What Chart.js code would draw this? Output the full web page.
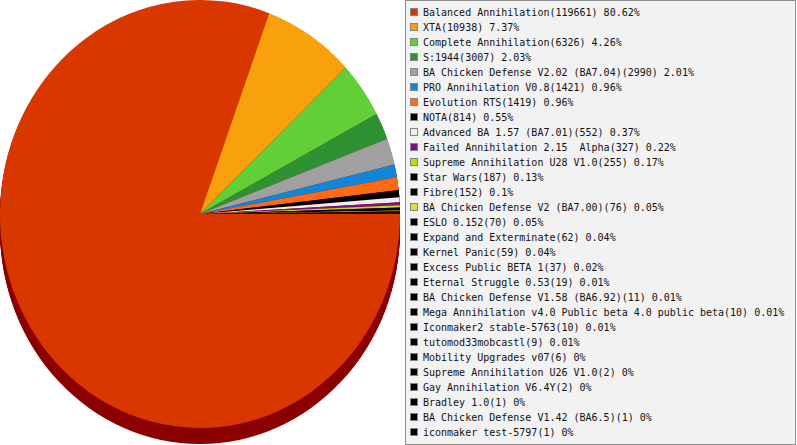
<!DOCTYPE html>
<html>
<head>
<meta charset="utf-8">
<title>Mod usage</title>
<script src="https://cdn.jsdelivr.net/npm/chart.js@4.4.1/dist/chart.umd.min.js"></script>
<style>
  html, body { margin: 0; padding: 0; background: #fff; overflow: hidden; }
  #wrap { position: relative; width: 797px; height: 445px; }
  #pie { position: absolute; left: 0; top: 0; }
  #legend {
    position: absolute; left: 405px; top: 0; width: 391px; height: 445px;
    box-sizing: border-box; border: 1px solid #8f8f8f; background: #f2f2f2;
    padding: 4px 0 0 4px;
    font-family: "DejaVu Sans Mono", "Liberation Mono", monospace; font-size: 10px; color: #111;
  }
  .row { height: 15px; line-height: 15px; white-space: pre; display: flex; align-items: center; }
  .sw { width: 8px; height: 8px; box-sizing: border-box; border: 1px solid #858585; margin-right: 5px; flex: none; margin-top: -1px; }
</style>
</head>
<body>
<div id="wrap">
  <canvas id="pie" width="400" height="445"></canvas>
  <div id="legend"></div>
</div>
<script>
// mods and the number of games played with each
const mods = [
  'Balanced Annihilation', 'XTA', 'Complete Annihilation', 'S:1944',
  'BA Chicken Defense V2.02 (BA7.04)', 'PRO Annihilation V0.8', 'Evolution RTS', 'NOTA',
  'Advanced BA 1.57 (BA7.01)', 'Failed Annihilation 2.15  Alpha', 'Supreme Annihilation U28 V1.0',
  'Star Wars', 'Fibre', 'BA Chicken Defense V2 (BA7.00)', 'ESLO 0.152', 'Expand and Exterminate',
  'Kernel Panic', 'Excess Public BETA 1', 'Eternal Struggle 0.53', 'BA Chicken Defense V1.58 (BA6.92)',
  'Mega Annihilation v4.0 Public beta 4.0 public beta', 'Iconmaker2 stable-5763', 'tutomod33mobcastl',
  'Mobility Upgrades v07', 'Supreme Annihilation U26 V1.0', 'Gay Annihilation V6.4Y', 'Bradley 1.0',
  'BA Chicken Defense V1.42 (BA6.5)', 'iconmaker test-5797'
];
const games = [
  119661, 10938, 6326, 3007, 2990, 1421, 1419, 814, 552, 327, 255, 187, 152, 76, 70, 62,
  59, 37, 19, 11, 10, 10, 9, 6, 2, 2, 1, 1, 1
];
const sliceColors = [
  '#d83800', '#f9a10c', '#62cf38', '#2e9232', '#a0a0a0', '#1285d6', '#ff6a12', '#000000',
  '#eeeeee', '#7e0e88', '#bde100', '#000000', '#000000', '#e0e02c', '#000000', '#000000',
  '#000000', '#000000', '#000000', '#000000', '#000000', '#000000', '#000000', '#000000',
  '#000000', '#000000', '#000000', '#000000', '#000000'
];

const total = games.reduce((a, b) => a + b, 0);
function pct(v) {
  return Math.round(v / total * 10000) / 100;
}

// squashes the pie a little and gives it a dark side wall
const pie3d = {
  id: 'pie3d',
  beforeDatasetsDraw(chart, args, opts) {
    const arcs = chart.getDatasetMeta(0).data;
    const ctx = chart.ctx;
    const cx = arcs[0].x, cy = arcs[0].y;
    ctx.save();
    ctx.translate(cx, cy);
    ctx.scale(1, opts.squash);
    ctx.translate(-cx, -cy);
    for (let k = opts.depth; k > 0; k--) {
      ctx.save();
      ctx.translate(0, k / opts.squash);
      ctx.fillStyle = opts.sideColor;
      arcs.forEach(a => {
        ctx.beginPath();
        ctx.moveTo(a.x, a.y);
        ctx.arc(a.x, a.y, a.outerRadius, a.startAngle, a.endAngle);
        ctx.closePath();
        ctx.fill();
      });
      ctx.restore();
    }
  },
  afterDatasetsDraw(chart) {
    chart.ctx.restore();
  }
};

new Chart(document.getElementById('pie'), {
  type: 'pie',
  data: {
    labels: mods,
    datasets: [{
      data: games,
      backgroundColor: sliceColors,
      borderWidth: 0,
      hoverOffset: 0,
      clip: false
    }]
  },
  options: {
    responsive: false,
    animation: false,
    rotation: 90, // start at 3 o'clock
    layout: { padding: { top: 0, left: 0, right: 0, bottom: 17 } },
    plugins: {
      legend: { display: false },
      tooltip: {
        callbacks: {
          label: function(context) {
            return `${context.label}(${context.raw}) ${pct(context.raw)}%`;
          }
        }
      },
      pie3d: { squash: 1.07, depth: 16, sideColor: '#8b0000' }
    }
  },
  plugins: [pie3d]
});

// legend box on the right
const legend = document.getElementById('legend');
mods.forEach((name, i) => {
  const row = document.createElement('div');
  row.className = 'row';
  const sw = document.createElement('span');
  sw.className = 'sw';
  sw.style.background = sliceColors[i];
  const txt = document.createElement('span');
  txt.textContent = `${name}(${games[i]}) ${pct(games[i])}%`;
  row.appendChild(sw);
  row.appendChild(txt);
  legend.appendChild(row);
});
</script>
</body>
</html>
